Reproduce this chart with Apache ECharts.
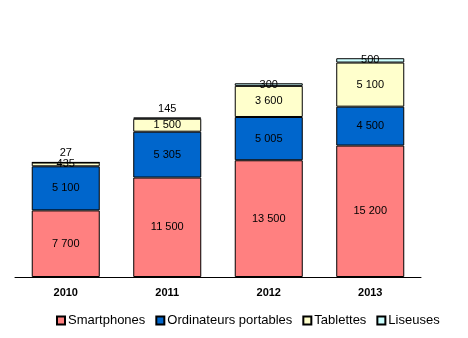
<!DOCTYPE html>
<html><head><meta charset="utf-8">
<script src="https://cdn.jsdelivr.net/npm/echarts@6/dist/echarts.min.js"></script>
<style>html,body{margin:0;padding:0;background:#fff}#c{width:468px;height:338px}</style>
</head><body><div id="c"></div>
<script>
const categories = ['2010', '2011', '2012', '2013'];
const smartphones = [7700, 11500, 13500, 15200];
const ordinateurs = [5100, 5305, 5005, 4500];
const tablettes = [435, 1500, 3600, 5100];
const liseuses = [27, 145, 300, 500];
const seriesNames = ['Smartphones', 'Ordinateurs portables', 'Tablettes', 'Liseuses'];

const fmt = v => String(v).replace(/\B(?=(\d{3})+(?!\d))/g, ' ');
const font = 'Liberation Sans, Arial, sans-serif';
const colors = ['#FF8080', '#0066CC', '#FFFFCC', '#CCFFFF'];
const lab = {show: true, position: 'inside', color: '#000', fontSize: 11, fontFamily: font,
  formatter: p => fmt(p.value)};

function mk(name, data, color, dataMapper) {
  return {
    name, type: 'bar', stack: 'all', barCategoryGap: '33%',
    itemStyle: {color, borderColor: '#000', borderWidth: 1},
    label: lab,
    data: dataMapper ? data.map(dataMapper) : data,
    emphasis: {disabled: true}
  };
}

const chart = echarts.init(document.getElementById('c'), null, {renderer: 'canvas'});
chart.setOption({
  animation: false,
  grid: {left: 15, right: 47, top: 15, bottom: 61},
  legend: {
    data: seriesNames, bottom: 6, left: 51, itemWidth: 8, itemHeight: 8, itemGap: 10,
    icon: 'rect',
    textStyle: {fontFamily: font, fontSize: 13, color: '#000', padding: [0, 0, 0, -2]}
  },
  xAxis: {
    type: 'category', data: categories,
    axisLine: {lineStyle: {color: '#000', width: 1}},
    axisTick: {inside: true, length: 3, lineStyle: {color: '#000'}},
    axisLabel: {fontFamily: font, fontSize: 11, fontWeight: 'bold', color: '#000', margin: 10}
  },
  yAxis: {type: 'value', min: 0, max: 30300, show: false, splitLine: {show: false}},
  series: [
    mk(seriesNames[0], smartphones, colors[0]),
    mk(seriesNames[1], ordinateurs, colors[1]),
    mk(seriesNames[2], tablettes, colors[2]),
    mk(seriesNames[3], liseuses, colors[3], (v, i) => i < 2
      ? {value: v, label: {position: 'top', distance: 3}}
      : {value: v})
  ]
});
</script></body></html>
